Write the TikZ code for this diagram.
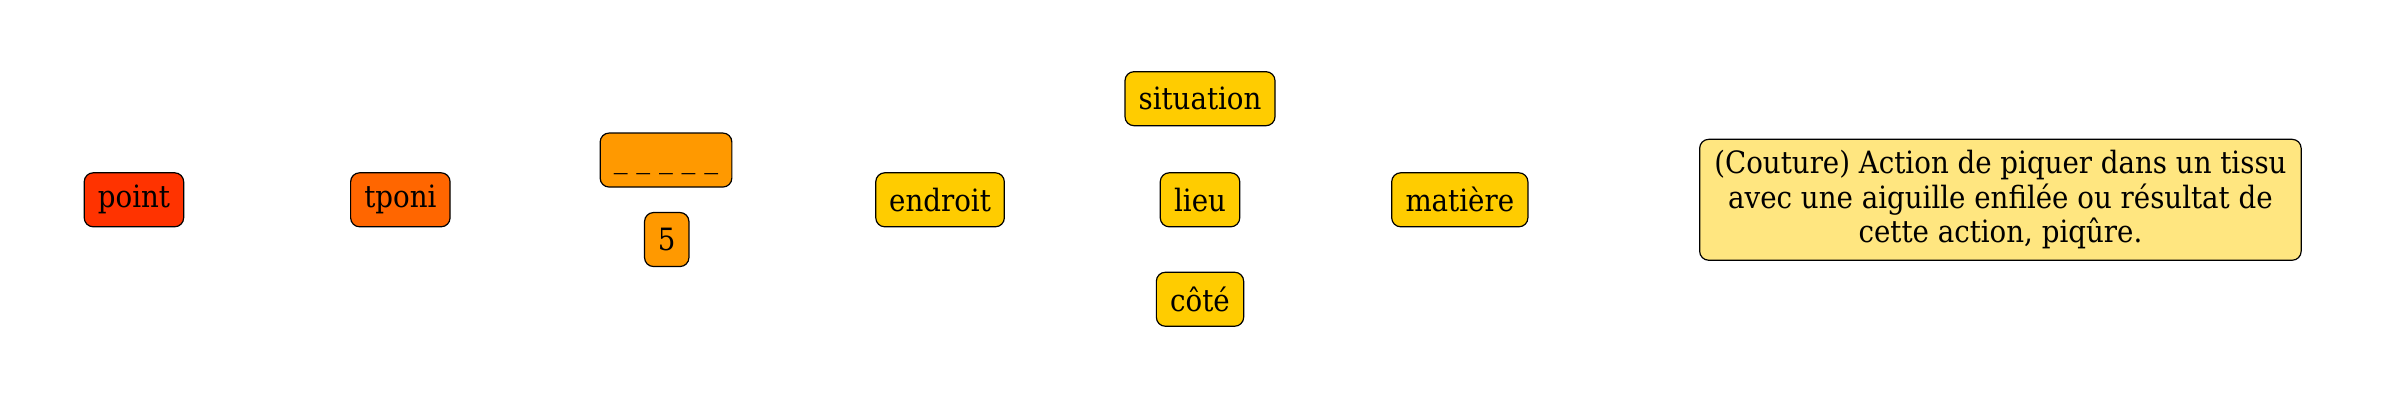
\documentclass[tikz,border=0pt]{standalone}
\usepackage{fontspec}
\setmainfont{DejaVu Serif Condensed}
\definecolor{cred}{HTML}{FF3300}
\definecolor{corange}{HTML}{FF6600}
\definecolor{camber}{HTML}{FF9900}
\definecolor{cyellow}{HTML}{FFCC00}
\definecolor{clight}{HTML}{FFE680}
\tikzset{
  box/.style={draw=black, line width=0.8pt, rounded corners=6pt, minimum height=36pt,
    inner xsep=0pt, inner ysep=0pt, font=\fontsize{20.5}{23}\selectfont, anchor=center},
}
\begin{document}
\begin{tikzpicture}[x=1pt,y=1pt]
\useasboundingbox (0,0) rectangle (1600,-266.67);
\node[box, fill=cred, minimum width=66.3pt] (point) at (89.3,-133.2) {point};
\node[box, fill=corange, minimum width=66.3pt] (tponi) at (266.9,-133.2) {tponi};
\node[box, fill=camber, minimum width=87.8pt] (blank) at (444,-106.7) {\vphantom{Ag}\_ \_ \_ \_ \_};
\node[box, fill=camber, minimum width=29.6pt] (five) at (444.5,-159.7) {5};
\node[box, fill=cyellow, minimum width=85.7pt] (endroit) at (626.7,-133.2) {endroit};
\node[box, fill=cyellow, minimum width=100pt] (situation) at (800,-65.8) {situation};
\node[box, fill=cyellow, minimum width=53pt] (lieu) at (800,-133.2) {lieu};
\node[box, fill=cyellow, minimum width=58.2pt] (cote) at (800,-199.5) {côté};
\node[box, fill=cyellow, minimum width=90.8pt] (matiere) at (973.2,-133.2) {matière};
\node[box, fill=clight, minimum width=401pt, minimum height=80.6pt, align=center,
  font=\fontsize{20.5}{23}\selectfont] (def) at (1333.6,-133.2)
  {(Couture) Action de piquer dans un tissu\\ avec une aiguille enfilée ou résultat de\\ cette action, piqûre.};
\end{tikzpicture}
\end{document}
